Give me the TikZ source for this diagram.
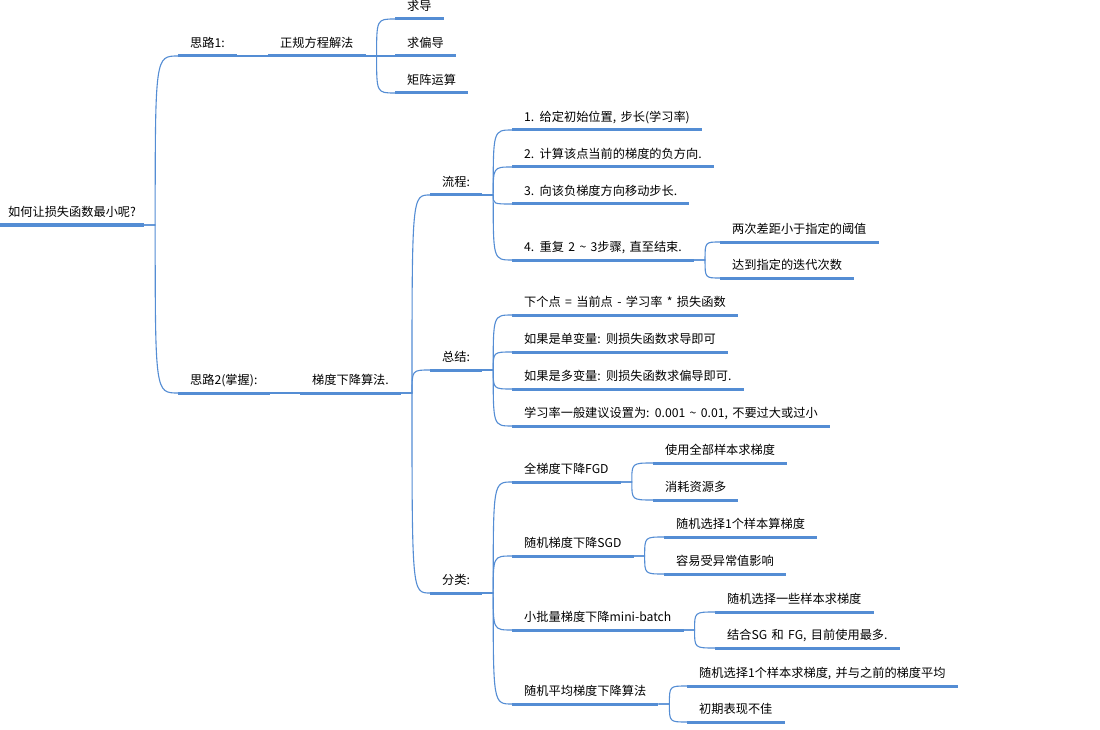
\documentclass[tikz,border=0pt]{standalone}
\usepackage{fontspec}
\setmainfont{Noto Sans CJK SC}[WordSpace=1.6]
\usepackage{xcolor}
\usepackage{tikz}
\definecolor{map_color}{RGB}{84, 141, 212}

\begin{document}
\begin{tikzpicture}[
    x=1pt, y=-1pt,
    topic/.style={anchor=south west, inner xsep=12pt, inner ysep=5pt,
                  text height=9pt, text depth=3pt,
                  font=\fontsize{12.2}{14}\selectfont},
    uline/.style={map_color, line width=3pt},
    link/.style={map_color, line width=1.1pt}]
    \path[use as bounding box, fill=white] (0,0) rectangle (1100,730);
    % root and first level
    \node[topic, inner xsep=8pt] (root) at (0,225) {如何让损失函数最小呢?};
    \node[topic] (idea1) at (178,56) {思路1:};
    \node[topic] (normal) at (268,56) {正规方程解法};
    \node[topic] (d1) at (395,19) {求导};
    \node[topic] (d2) at (395,56) {求偏导};
    \node[topic] (d3) at (395,93) {矩阵运算};
    \node[topic] (idea2) at (178,393) {思路2(掌握):};
    \node[topic] (gd) at (300,393) {梯度下降算法.};
    % flow
    \node[topic] (flow) at (430,195) {流程:};
    \node[topic] (f1) at (512,130) {1. 给定初始位置, 步长(学习率)};
    \node[topic] (f2) at (512,167) {2. 计算该点当前的梯度的负方向.};
    \node[topic] (f3) at (512,204) {3. 向该负梯度方向移动步长.};
    \node[topic] (f4) at (512,260) {4. 重复 2 \textasciitilde{} 3步骤, 直至结束.};
    \node[topic] (s1) at (720,242) {两次差距小于指定的阈值};
    \node[topic] (s2) at (720,278) {达到指定的迭代次数};
    % summary
    \node[topic] (sum) at (430,370) {总结:};
    \node[topic] (m1) at (512,315) {下个点 = 当前点 - 学习率 * 损失函数};
    \node[topic] (m2) at (512,352) {如果是单变量: 则损失函数求导即可};
    \node[topic] (m3) at (512,389) {如果是多变量: 则损失函数求偏导即可.};
    \node[topic] (m4) at (512,426)
      {学习率一般建议设置为: 0.001 \textasciitilde{} 0.01, 不要过大或过小};
    % kinds
    \node[topic] (kind) at (430,593) {分类:};
    \node[topic] (c1) at (512,482) {全梯度下降FGD};
    \node[topic] (c1a) at (653,463) {使用全部样本求梯度};
    \node[topic] (c1b) at (653,500) {消耗资源多};
    \node[topic] (c2) at (512,556) {随机梯度下降SGD};
    \node[topic] (c2a) at (664,537) {随机选择1个样本算梯度};
    \node[topic] (c2b) at (664,574) {容易受异常值影响};
    \node[topic] (c3) at (512,630) {小批量梯度下降mini-batch};
    \node[topic] (c3a) at (715,612) {随机选择一些样本求梯度};
    \node[topic] (c3b) at (715,648) {结合SG 和 FG, 目前使用最多.};
    \node[topic] (c4) at (512,704) {随机平均梯度下降算法};
    \node[topic] (c4a) at (687,686) {随机选择1个样本求梯度, 并与之前的梯度平均};
    \node[topic] (c4b) at (687,722) {初期表现不佳};
    % branches
    \foreach \p/\c in {root/idea1, root/idea2, idea1/normal, normal/d1,
        normal/d2, normal/d3, idea2/gd, gd/flow, gd/sum, gd/kind,
        flow/f1, flow/f2, flow/f3, flow/f4, f4/s1, f4/s2,
        sum/m1, sum/m2, sum/m3, sum/m4, kind/c1, kind/c2, kind/c3, kind/c4,
        c1/c1a, c1/c1b, c2/c2a, c2/c2b, c3/c3a, c3/c3b, c4/c4a, c4/c4b}
      \draw[link] (\p.south east) -- ++(11,0) coordinate (b)
        .. controls (b |- \c.south west) .. (\c.south west);
    % underlines
    \foreach \n in {root, idea1, normal, d1, d2, d3, idea2, gd, flow,
        f1, f2, f3, f4, s1, s2, sum, m1, m2, m3, m4, kind,
        c1, c1a, c1b, c2, c2a, c2b, c3, c3a, c3b, c4, c4a, c4b}
      \draw[uline] (\n.south west) -- (\n.south east);
  \end{tikzpicture}
\end{document}
